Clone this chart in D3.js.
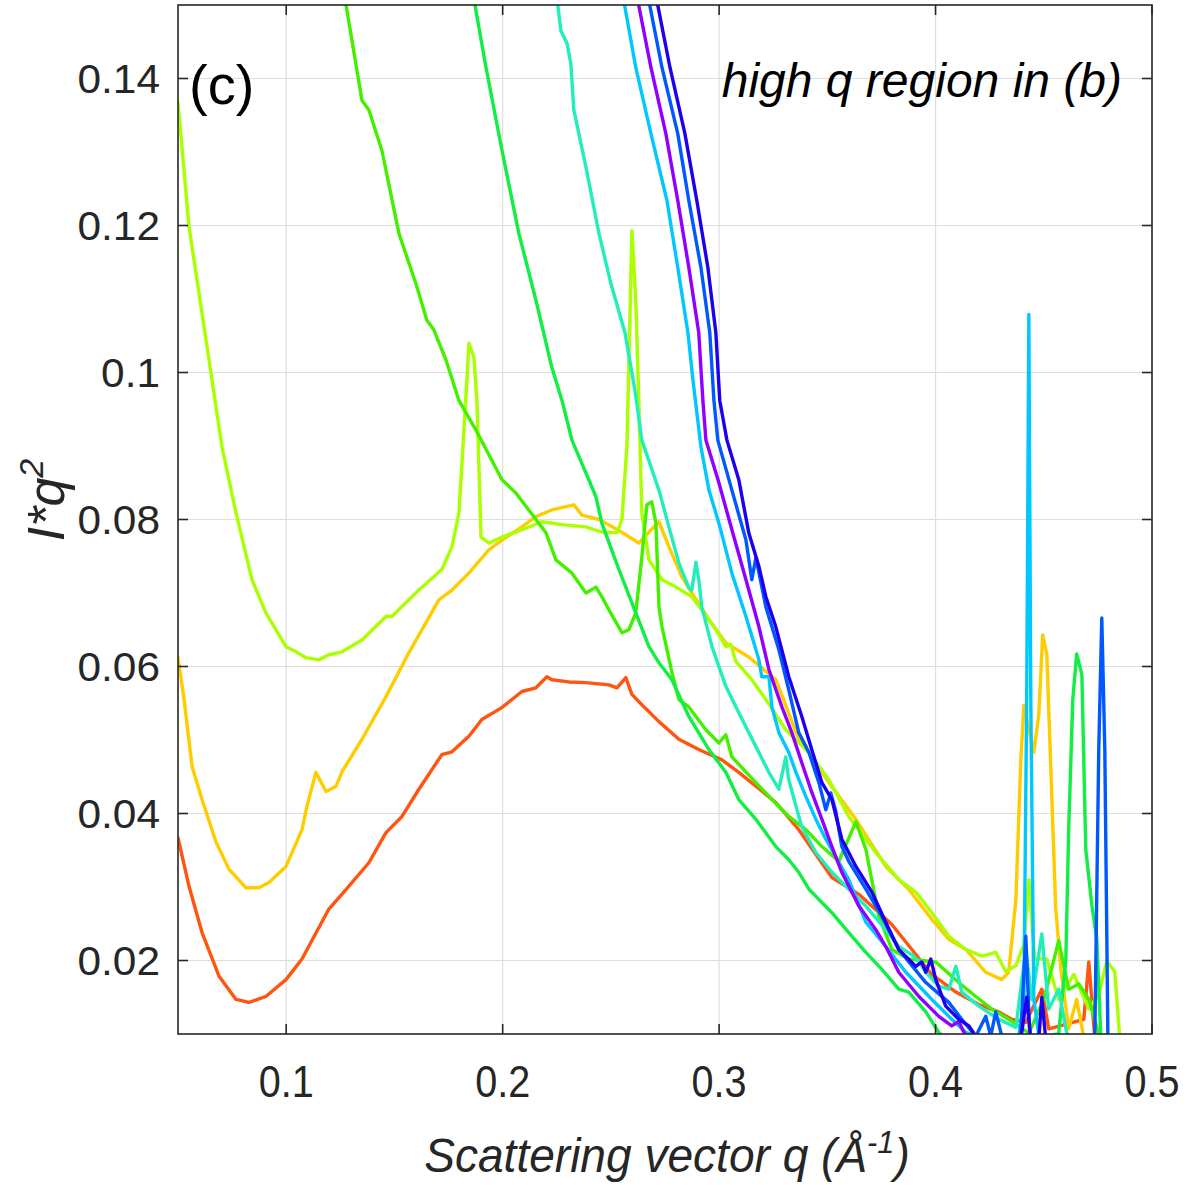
<!DOCTYPE html>
<html>
<head>
<meta charset="utf-8">
<script src="https://cdn.jsdelivr.net/npm/d3@7"></script>
<style>
	html, body { margin: 0; padding: 0; background: #fff; }
	svg { display: block; font-family: "Liberation Sans", Arial, sans-serif; }
	.grid line { stroke: #dedede; stroke-width: 1.2px; }
	.frame { fill: none; stroke: #262626; stroke-width: 1.6px; }
	.tick-mark { stroke: #262626; stroke-width: 1.6px; }
	.tick-label { fill: #262626; }
	.curve { fill: none; stroke-width: 3.4px; stroke-linejoin: round; stroke-linecap: round; }
</style>
</head>
<body>
<svg id="plot"></svg>
<script>
const WIDTH = 1193;
const HEIGHT = 1185;

const svg = d3.select("#plot").attr("width", WIDTH).attr("height", HEIGHT);

// axis ranges as in the figure
const Q_MIN = 0.05;
const Q_MAX = 0.5;
const V_MIN = 0.01;
const V_MAX = 0.15;

const PLOT_LEFT = 178;
const PLOT_RIGHT = 1152;
const PLOT_TOP = 5;
const PLOT_BOTTOM = 1034;

const xScale = d3.scaleLinear([Q_MIN, Q_MAX], [PLOT_LEFT, PLOT_RIGHT]);
const yScale = d3.scaleLinear([V_MIN, V_MAX], [PLOT_BOTTOM, PLOT_TOP]);

const Q_TICKS = [0.1, 0.2, 0.3, 0.4, 0.5];
const Q_TICK_LABELS = ["0.1", "0.2", "0.3", "0.4", "0.5"];
const V_TICKS = [0.02, 0.04, 0.06, 0.08, 0.1, 0.12, 0.14];
const V_TICK_LABELS = ["0.02", "0.04", "0.06", "0.08", "0.1", "0.12", "0.14"];

// I*q^2 curves, [q, I*q^2]
const curveRed = [[0.0500,0.0367],[0.0551,0.0301],[0.0611,0.0238],[0.0689,0.0179],[0.0768,0.0147],[0.0828,0.0143],[0.0906,0.0151],[0.0999,0.0174],[0.1073,0.0202],[0.1197,0.0270],[0.1257,0.0290],[0.1382,0.0333],[0.1461,0.0374],[0.1535,0.0396],[0.1613,0.0433],[0.1719,0.0480],[0.1766,0.0484],[0.1844,0.0505],[0.1904,0.0528],[0.1996,0.0544],[0.2089,0.0566],[0.2154,0.0571],[0.2204,0.0586],[0.2227,0.0582],[0.2306,0.0579],[0.2384,0.0578],[0.2491,0.0575],[0.2528,0.0571],[0.2569,0.0585],[0.2597,0.0562],[0.2643,0.0548],[0.2722,0.0525],[0.2814,0.0501],[0.2906,0.0487],[0.3013,0.0473],[0.3091,0.0456],[0.3170,0.0437],[0.3262,0.0415],[0.3368,0.0378],[0.3521,0.0313],[0.3646,0.0290],[0.3798,0.0249],[0.3983,0.0181],[0.4094,0.0157],[0.4200,0.0140],[0.4292,0.0130],[0.4352,0.0120],[0.4417,0.0116],[0.4491,0.0161],[0.4523,0.0107],[0.4685,0.0120],[0.4708,0.0198],[0.4736,0.0093]];

const curveYellow = [[0.0500,0.0612],[0.0528,0.0555],[0.0565,0.0464],[0.0611,0.0419],[0.0676,0.0361],[0.0736,0.0324],[0.0814,0.0299],[0.0874,0.0299],[0.0920,0.0306],[0.0999,0.0328],[0.1073,0.0378],[0.1096,0.0410],[0.1137,0.0456],[0.1184,0.0430],[0.1230,0.0437],[0.1258,0.0457],[0.1350,0.0501],[0.1461,0.0559],[0.1567,0.0619],[0.1706,0.0691],[0.1766,0.0704],[0.1844,0.0727],[0.1937,0.0759],[0.1997,0.0772],[0.2089,0.0790],[0.2154,0.0804],[0.2227,0.0813],[0.2329,0.0820],[0.2366,0.0806],[0.2445,0.0800],[0.2537,0.0785],[0.2629,0.0768],[0.2722,0.0797],[0.2768,0.0763],[0.2828,0.0722],[0.2874,0.0700],[0.2953,0.0664],[0.3031,0.0632],[0.3137,0.0613],[0.3262,0.0582],[0.3368,0.0501],[0.3447,0.0469],[0.3507,0.0442],[0.3632,0.0392],[0.3770,0.0328],[0.3876,0.0297],[0.3983,0.0256],[0.4061,0.0229],[0.4140,0.0215],[0.4232,0.0184],[0.4306,0.0174],[0.4338,0.0184],[0.4371,0.0283],[0.4394,0.0473],[0.4408,0.0547],[0.4454,0.0483],[0.4477,0.0535],[0.4495,0.0643],[0.4514,0.0617],[0.4555,0.0272],[0.4579,0.0188],[0.4615,0.0107],[0.4652,0.0147],[0.4685,0.0095]];

const curveLime = [[0.0500,0.1367],[0.0551,0.1198],[0.0611,0.1081],[0.0657,0.0990],[0.0703,0.0899],[0.0768,0.0809],[0.0842,0.0718],[0.0906,0.0673],[0.0999,0.0627],[0.1045,0.0620],[0.1091,0.0612],[0.1151,0.0609],[0.1197,0.0616],[0.1258,0.0620],[0.1350,0.0636],[0.1461,0.0668],[0.1488,0.0668],[0.1613,0.0704],[0.1719,0.0732],[0.1766,0.0763],[0.1798,0.0809],[0.1812,0.0877],[0.1835,0.0990],[0.1844,0.1040],[0.1867,0.1021],[0.1881,0.0962],[0.1900,0.0776],[0.1937,0.0768],[0.1997,0.0776],[0.2089,0.0786],[0.2181,0.0797],[0.2274,0.0793],[0.2384,0.0790],[0.2458,0.0783],[0.2528,0.0782],[0.2551,0.0800],[0.2574,0.0899],[0.2597,0.1193],[0.2615,0.1098],[0.2629,0.0962],[0.2643,0.0809],[0.2676,0.0745],[0.2736,0.0718],[0.2800,0.0708],[0.2874,0.0695],[0.2920,0.0677],[0.2985,0.0650],[0.3031,0.0627],[0.3054,0.0630],[0.3077,0.0607],[0.3151,0.0582],[0.3216,0.0555],[0.3308,0.0514],[0.3415,0.0483],[0.3507,0.0446],[0.3599,0.0396],[0.3724,0.0347],[0.3830,0.0310],[0.3909,0.0293],[0.3983,0.0265],[0.4061,0.0233],[0.4140,0.0215],[0.4214,0.0206],[0.4278,0.0211],[0.4324,0.0185],[0.4371,0.0193],[0.4408,0.0222],[0.4431,0.0310],[0.4458,0.0202],[0.4514,0.0202],[0.4569,0.0147],[0.4639,0.0181],[0.4708,0.0134],[0.4754,0.0154],[0.4791,0.0199],[0.4828,0.0185],[0.4851,0.0095]];

const curveGreen = [[0.1265,0.1520],[0.1350,0.1370],[0.1382,0.1357],[0.1442,0.1302],[0.1521,0.1189],[0.1599,0.1121],[0.1650,0.1071],[0.1682,0.1058],[0.1738,0.1017],[0.1798,0.0962],[0.1876,0.0922],[0.1997,0.0854],[0.2061,0.0836],[0.2154,0.0800],[0.2200,0.0782],[0.2246,0.0745],[0.2320,0.0727],[0.2385,0.0700],[0.2431,0.0708],[0.2458,0.0695],[0.2491,0.0677],[0.2551,0.0646],[0.2583,0.0650],[0.2615,0.0673],[0.2643,0.0749],[0.2666,0.0820],[0.2689,0.0824],[0.2708,0.0795],[0.2722,0.0681],[0.2736,0.0654],[0.2782,0.0592],[0.2814,0.0555],[0.2860,0.0545],[0.2939,0.0514],[0.2999,0.0496],[0.3031,0.0507],[0.3059,0.0477],[0.3170,0.0442],[0.3244,0.0419],[0.3322,0.0396],[0.3401,0.0378],[0.3475,0.0355],[0.3553,0.0335],[0.3632,0.0389],[0.3678,0.0351],[0.3738,0.0260],[0.3798,0.0215],[0.3876,0.0202],[0.4001,0.0198],[0.4107,0.0170],[0.4186,0.0151],[0.4260,0.0134],[0.4338,0.0120],[0.4385,0.0111],[0.4431,0.0101],[0.4500,0.0147],[0.4569,0.0227],[0.4615,0.0161],[0.4662,0.0168],[0.4708,0.0147],[0.4754,0.0101],[0.4800,0.0086]];

const curveSpring = [[0.1860,0.1520],[0.1923,0.1415],[0.1997,0.1302],[0.2075,0.1189],[0.2154,0.1098],[0.2227,0.1007],[0.2274,0.0962],[0.2320,0.0908],[0.2385,0.0863],[0.2431,0.0831],[0.2458,0.0795],[0.2537,0.0732],[0.2615,0.0673],[0.2676,0.0627],[0.2722,0.0605],[0.2782,0.0582],[0.2860,0.0532],[0.2953,0.0487],[0.3031,0.0456],[0.3091,0.0419],[0.3170,0.0392],[0.3262,0.0355],[0.3322,0.0337],[0.3368,0.0320],[0.3415,0.0297],[0.3521,0.0265],[0.3599,0.0238],[0.3678,0.0211],[0.3752,0.0188],[0.3830,0.0161],[0.3876,0.0157],[0.3955,0.0130],[0.4015,0.0102],[0.4107,0.0079],[0.4292,0.0086],[0.4477,0.0093],[0.4569,0.0101],[0.4602,0.0202],[0.4615,0.0378],[0.4634,0.0555],[0.4652,0.0617],[0.4676,0.0589],[0.4694,0.0351],[0.4722,0.0276],[0.4745,0.0229],[0.4763,0.0101],[0.4800,0.0079]];

const curveAqua = [[0.2246,0.1520],[0.2269,0.1465],[0.2297,0.1448],[0.2315,0.1420],[0.2329,0.1357],[0.2385,0.1279],[0.2445,0.1189],[0.2500,0.1121],[0.2565,0.1054],[0.2611,0.0976],[0.2643,0.0908],[0.2722,0.0840],[0.2768,0.0790],[0.2814,0.0741],[0.2860,0.0707],[0.2874,0.0704],[0.2893,0.0742],[0.2906,0.0718],[0.2920,0.0681],[0.2967,0.0627],[0.3031,0.0573],[0.3091,0.0537],[0.3170,0.0491],[0.3230,0.0456],[0.3276,0.0433],[0.3308,0.0477],[0.3322,0.0446],[0.3355,0.0410],[0.3382,0.0382],[0.3447,0.0347],[0.3521,0.0320],[0.3599,0.0297],[0.3678,0.0274],[0.3770,0.0242],[0.3830,0.0219],[0.3890,0.0208],[0.3923,0.0199],[0.3955,0.0184],[0.4015,0.0165],[0.4061,0.0161],[0.4094,0.0192],[0.4121,0.0157],[0.4200,0.0138],[0.4292,0.0120],[0.4371,0.0109],[0.4417,0.0215],[0.4445,0.0147],[0.4491,0.0236],[0.4523,0.0134],[0.4569,0.0161],[0.4606,0.0101],[0.4662,0.0086]];

const curveSky = [[0.2551,0.1520],[0.2615,0.1415],[0.2685,0.1325],[0.2759,0.1234],[0.2809,0.1143],[0.2856,0.1054],[0.2879,0.0990],[0.2916,0.0899],[0.2953,0.0840],[0.2999,0.0795],[0.3059,0.0727],[0.3124,0.0668],[0.3184,0.0609],[0.3197,0.0586],[0.3230,0.0586],[0.3244,0.0545],[0.3276,0.0510],[0.3322,0.0483],[0.3355,0.0456],[0.3401,0.0423],[0.3447,0.0392],[0.3493,0.0365],[0.3599,0.0310],[0.3678,0.0252],[0.3770,0.0219],[0.3863,0.0184],[0.3983,0.0147],[0.4075,0.0120],[0.4140,0.0102],[0.4246,0.0093],[0.4385,0.0098],[0.4408,0.0147],[0.4421,0.0555],[0.4431,0.1079],[0.4440,0.0555],[0.4454,0.0147],[0.4477,0.0098],[0.4569,0.0086]];

const curveViolet = [[0.2615,0.1520],[0.2685,0.1415],[0.2754,0.1325],[0.2809,0.1234],[0.2860,0.1143],[0.2906,0.1054],[0.2925,0.0962],[0.2939,0.0908],[0.2999,0.0850],[0.3059,0.0786],[0.3124,0.0718],[0.3184,0.0654],[0.3230,0.0596],[0.3290,0.0545],[0.3336,0.0510],[0.3382,0.0469],[0.3428,0.0429],[0.3475,0.0392],[0.3521,0.0355],[0.3567,0.0320],[0.3646,0.0274],[0.3724,0.0242],[0.3770,0.0219],[0.3830,0.0184],[0.3923,0.0151],[0.4015,0.0124],[0.4075,0.0111],[0.4107,0.0117],[0.4140,0.0097],[0.4223,0.0086]];

const curveBlue = [[0.2666,0.1520],[0.2736,0.1415],[0.2809,0.1325],[0.2860,0.1234],[0.2916,0.1143],[0.2957,0.1054],[0.2976,0.0962],[0.2994,0.0908],[0.3059,0.0840],[0.3124,0.0772],[0.3151,0.0718],[0.3170,0.0748],[0.3216,0.0681],[0.3276,0.0623],[0.3322,0.0568],[0.3368,0.0510],[0.3415,0.0483],[0.3461,0.0442],[0.3493,0.0405],[0.3516,0.0428],[0.3539,0.0403],[0.3567,0.0355],[0.3599,0.0335],[0.3678,0.0297],[0.3752,0.0260],[0.3830,0.0215],[0.3955,0.0170],[0.4061,0.0143],[0.4121,0.0120],[0.4186,0.0097],[0.4232,0.0124],[0.4255,0.0097],[0.4278,0.0130],[0.4306,0.0097],[0.4361,0.0086],[0.4394,0.0101],[0.4417,0.0233],[0.4435,0.0101],[0.4477,0.0086],[0.4708,0.0086],[0.4736,0.0101],[0.4754,0.0487],[0.4768,0.0666],[0.4782,0.0487],[0.4796,0.0101],[0.4823,0.0086]];

const curveNavy = [[0.2703,0.1520],[0.2773,0.1415],[0.2842,0.1325],[0.2897,0.1234],[0.2948,0.1143],[0.2985,0.1054],[0.3003,0.0962],[0.3036,0.0908],[0.3091,0.0854],[0.3137,0.0782],[0.3184,0.0736],[0.3216,0.0695],[0.3262,0.0654],[0.3322,0.0586],[0.3382,0.0532],[0.3428,0.0487],[0.3475,0.0442],[0.3521,0.0419],[0.3567,0.0365],[0.3632,0.0328],[0.3706,0.0293],[0.3770,0.0252],[0.3830,0.0215],[0.3909,0.0192],[0.3936,0.0198],[0.3955,0.0184],[0.3978,0.0202],[0.4001,0.0174],[0.4047,0.0138],[0.4107,0.0120],[0.4154,0.0111],[0.4186,0.0097],[0.4246,0.0086],[0.4394,0.0093],[0.4421,0.0150],[0.4440,0.0093],[0.4477,0.0093],[0.4491,0.0150],[0.4509,0.0093],[0.4569,0.0086]];

const CURVES = [curveRed, curveYellow, curveLime, curveGreen, curveSpring, curveAqua, curveSky, curveViolet, curveBlue, curveNavy];
const CURVE_COLORS = ["#ff5511", "#ffcc00", "#aaff00", "#44f000", "#11ee44", "#22eebb", "#00c8ff", "#9100ff", "#0058ff", "#1c00ee"];

// clip the curves to the axes box
svg.append("defs")
	.append("clipPath")
	.attr("id", "plot-clip")
	.append("rect")
	.attr("x", PLOT_LEFT)
	.attr("y", PLOT_TOP)
	.attr("width", PLOT_RIGHT - PLOT_LEFT)
	.attr("height", PLOT_BOTTOM - PLOT_TOP);

// grid
const grid = svg.append("g").attr("class", "grid");
grid.selectAll(".gx")
	.data(Q_TICKS.filter(q => q < Q_MAX))
	.join("line")
	.attr("x1", d => xScale(d))
	.attr("x2", d => xScale(d))
	.attr("y1", PLOT_TOP)
	.attr("y2", PLOT_BOTTOM);
grid.selectAll(".gy")
	.data(V_TICKS)
	.join("line")
	.attr("class", "gy")
	.attr("x1", PLOT_LEFT)
	.attr("x2", PLOT_RIGHT)
	.attr("y1", d => yScale(d))
	.attr("y2", d => yScale(d));

// curves
const line = d3.line()
	.x(d => xScale(d[0]))
	.y(d => yScale(d[1]));

svg.append("g")
	.attr("clip-path", "url(#plot-clip)")
	.selectAll("path")
	.data(CURVES)
	.join("path")
	.attr("class", "curve")
	.attr("stroke", (d, i) => CURVE_COLORS[i])
	.attr("d", line);

// frame and inward ticks on all four sides
svg.append("rect")
	.attr("class", "frame")
	.attr("x", PLOT_LEFT)
	.attr("y", PLOT_TOP)
	.attr("width", PLOT_RIGHT - PLOT_LEFT)
	.attr("height", PLOT_BOTTOM - PLOT_TOP);

const TICK_LEN = 10;
const ticks = svg.append("g");
Q_TICKS.forEach(q => {
	const x = xScale(q);
	ticks.append("line").attr("class", "tick-mark")
		.attr("x1", x).attr("x2", x).attr("y1", PLOT_BOTTOM).attr("y2", PLOT_BOTTOM - TICK_LEN);
	ticks.append("line").attr("class", "tick-mark")
		.attr("x1", x).attr("x2", x).attr("y1", PLOT_TOP).attr("y2", PLOT_TOP + TICK_LEN);
});
V_TICKS.forEach(v => {
	const y = yScale(v);
	ticks.append("line").attr("class", "tick-mark")
		.attr("x1", PLOT_LEFT).attr("x2", PLOT_LEFT + TICK_LEN).attr("y1", y).attr("y2", y);
	ticks.append("line").attr("class", "tick-mark")
		.attr("x1", PLOT_RIGHT).attr("x2", PLOT_RIGHT - TICK_LEN).attr("y1", y).attr("y2", y);
});

// tick labels (x labels are a bit narrow in the figure, y labels a bit wide)
svg.append("g")
	.selectAll("text")
	.data(Q_TICKS)
	.join("text")
	.attr("class", "tick-label")
	.attr("transform", d => `translate(${xScale(d)}, 1097) scale(0.9, 1)`)
	.attr("text-anchor", "middle")
	.attr("font-size", 44)
	.text((d, i) => Q_TICK_LABELS[i]);

svg.append("g")
	.selectAll("text")
	.data(V_TICKS)
	.join("text")
	.attr("class", "tick-label")
	.attr("transform", d => `translate(160, ${yScale(d) + 14}) scale(1.06, 1)`)
	.attr("text-anchor", "end")
	.attr("font-size", 40)
	.text((d, i) => V_TICK_LABELS[i]);

// axis titles
const xTitle = svg.append("text")
	.attr("transform", "translate(667, 1172) scale(0.96, 1)")
	.attr("text-anchor", "middle")
	.attr("font-size", 48)
	.attr("font-style", "italic")
	.attr("fill", "#262626");
xTitle.append("tspan").text("Scattering vector q (Å");
xTitle.append("tspan").attr("font-size", 32).attr("dy", -19).text("-1");
xTitle.append("tspan").attr("dy", 19).text(")");

const yTitle = svg.append("text")
	.attr("transform", "translate(64, 500) rotate(-90)")
	.attr("text-anchor", "middle")
	.attr("font-size", 52)
	.attr("font-style", "italic")
	.attr("fill", "#262626");
yTitle.append("tspan").text("I*q");
yTitle.append("tspan").attr("font-size", 34).attr("dy", -21).text("2");

// panel annotations
svg.append("text")
	.attr("x", 189)
	.attr("y", 104)
	.attr("font-size", 56)
	.attr("fill", "#000")
	.text("(c)");

svg.append("text")
	.attr("x", 1122)
	.attr("y", 97)
	.attr("text-anchor", "end")
	.attr("font-size", 48)
	.attr("font-style", "italic")
	.attr("fill", "#000")
	.text("high q region in (b)");
</script>
</body>
</html>
